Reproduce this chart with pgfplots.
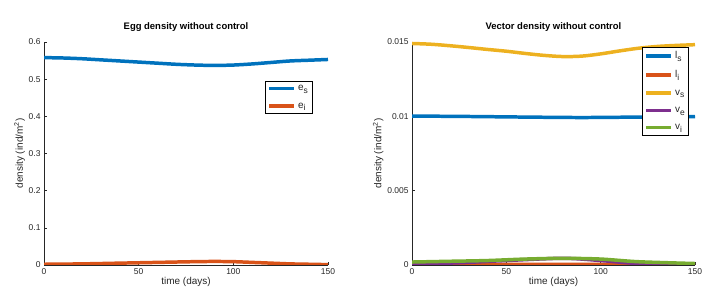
\documentclass[border=0pt]{standalone}
\usepackage{pgfplots}
\pgfplotsset{compat=1.18}
\usepackage{fontspec}
\setmainfont{Liberation Sans}
\definecolor{mblue}{rgb}{0,0.447,0.741}
\definecolor{morange}{rgb}{0.85,0.325,0.098}
\definecolor{myellow}{rgb}{0.929,0.694,0.125}
\definecolor{mpurple}{rgb}{0.494,0.184,0.556}
\definecolor{mgreen}{rgb}{0.466,0.674,0.188}
\definecolor{axgray}{gray}{0.15}
\newcommand{\sub}[1]{\raisebox{-0.55ex}{\fontsize{8.5}{9}\selectfont #1}}
\pgfplotsset{
  mstyle/.style={
    scale only axis, width=284bp, height=223bp,
    axis x line*=bottom, axis y line*=left,
    axis line style={axgray, line width=0.6pt, -},
    tick align=inside, major tick length=3bp,
    tick style={axgray, line width=0.5pt},
    xmin=0, xmax=150, xtick={0,50,100,150},
    scaled y ticks=false,
    ticklabel style={font=\fontsize{8.5}{10}\selectfont, text=axgray},
    /pgf/number format/assume math mode=true,
    label style={font=\fontsize{10}{12}\selectfont, text=axgray},
    xlabel={time (days)},
    ylabel={density (ind/m\textsuperscript{2})},
    xlabel style={yshift=4bp},
    ylabel style={yshift=-3bp},
    title style={font=\bfseries\fontsize{9.5}{11}\selectfont, at={(0.5,1)}, anchor=south, yshift=1bp},
    legend style={draw=black, line width=0.6pt, font=\fontsize{10}{11}\selectfont, text=axgray,
      inner sep=2bp, row sep=6.5bp, legend cell align=left},
    legend image code/.code={\draw[#1, line width=3.5pt] (0bp,0bp) -- (25bp,0bp);},
    every axis plot/.append style={line width=3.5pt, smooth, no marks},
  }
}
\begin{document}
\begin{tikzpicture}
\useasboundingbox (0,0) rectangle (717bp,296bp);
\begin{axis}[mstyle, at={(44bp,31bp)}, anchor=south west,
  ymin=0, ymax=0.6, ytick={0,0.1,0.2,0.3,0.4,0.5,0.6},
  yticklabels={0,0.1,0.2,0.3,0.4,0.5,0.6},
  title={Egg density without control},
  legend style={at={(0.944,0.825)}, anchor=north east}]
\addplot[mblue] coordinates {(0,0.558) (10,0.557) (20,0.555) (30,0.552) (40,0.549) (50,0.546) (60,0.543) (70,0.540) (80,0.538) (90,0.537) (100,0.538) (110,0.541) (120,0.545) (130,0.549) (140,0.551) (150,0.553)};
\addlegendentry{e\sub{s}}
\addplot[morange] coordinates {(0,0.002) (20,0.003) (40,0.005) (60,0.007) (80,0.009) (90,0.0095) (100,0.009) (110,0.007) (120,0.005) (130,0.003) (140,0.002) (150,0.001)};
\addlegendentry{e\sub{i}}
\end{axis}
\begin{axis}[mstyle, at={(412bp,31bp)}, anchor=south west, width=283bp,
  ymin=0, ymax=0.015, ytick={0,0.005,0.01,0.015},
  yticklabels={0,0.005,0.01,0.015},
  title={Vector density without control},
  legend style={at={(0.979,0.977)}, anchor=north east}]
\addplot[mblue] coordinates {(0,0.01002) (30,0.00999) (60,0.00995) (90,0.00992) (120,0.00995) (150,0.00998)};
\addlegendentry{l\sub{s}}
\addplot[morange] coordinates {(0,0.00001) (40,0.00003) (80,0.00005) (120,0.00002) (150,0.00001)};
\addlegendentry{l\sub{i}}
\addplot[myellow] coordinates {(0,0.0149) (10,0.01485) (20,0.01475) (30,0.01463) (40,0.0145) (50,0.01438) (60,0.01423) (70,0.0141) (80,0.01402) (90,0.01405) (100,0.0142) (110,0.0144) (120,0.01458) (130,0.0147) (140,0.01477) (150,0.01482)};
\addlegendentry{v\sub{s}}
\addplot[mpurple] coordinates {(0,0.00005) (25,0.00015) (50,0.0003) (80,0.00045) (100,0.0003) (120,0.0001) (150,0.00002)};
\addlegendentry{v\sub{e}}
\addplot[mgreen] coordinates {(0,0.0002) (20,0.00025) (40,0.0003) (60,0.0004) (80,0.00045) (100,0.0004) (120,0.00022) (150,0.0001)};
\addlegendentry{v\sub{i}}
\end{axis}
\end{tikzpicture}
\end{document}
